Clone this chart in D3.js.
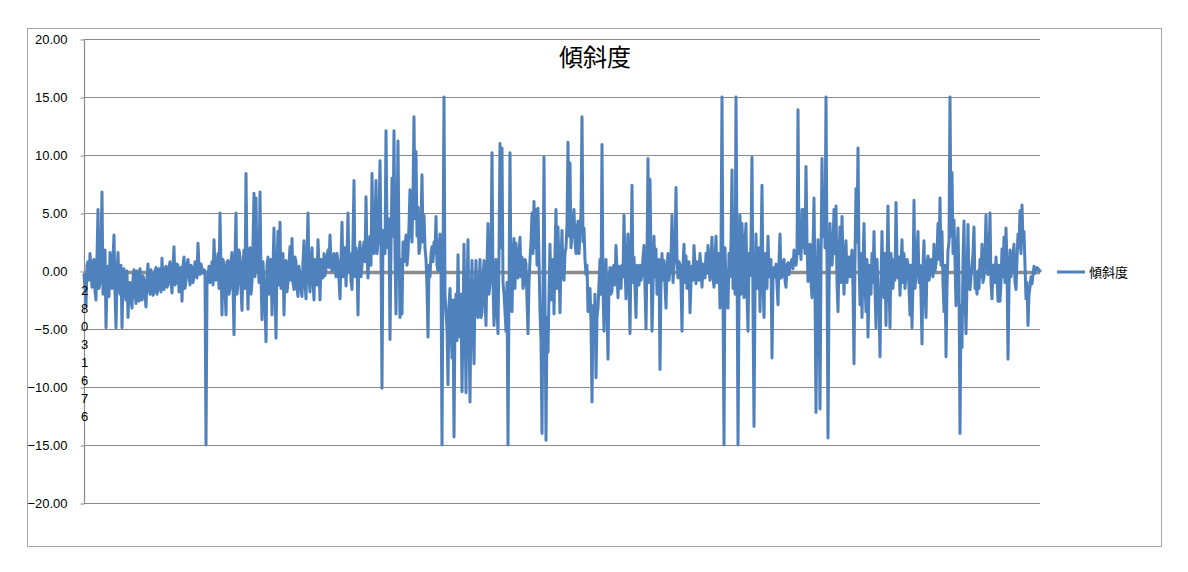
<!DOCTYPE html>
<html><head><meta charset="utf-8">
<script src="https://cdn.jsdelivr.net/npm/d3@7"></script>
<style>body{margin:0;background:#fff}svg{display:block}</style>
</head><body>
<svg id="c" width="1188" height="572"></svg>
<script>
const title = "傾斜度";
const seriesName = "傾斜度";
const categoryLabel = "28031676";
const yTicks = [20, 15, 10, 5, 0, -5, -10, -15, -20];
const values = [
-0.3,-1.5,-3.0,0.5,0.8,-0.8,1.5,0.2,-1.4,0.8,1.0,-1.8,-2.5,1.2,5.3,-1.5,-1.0,2.0,6.8,-2.0,
0.5,1.8,-4.9,-1.0,0.4,-2.2,1.6,-0.5,-1.5,1.2,3.1,-1.8,-4.9,-0.5,1.6,-1.2,-2.0,0.5,-4.9,-0.8,
0.2,-1.8,-2.5,0.0,-4.0,-1.5,-1.0,-2.4,-3.2,-0.6,0.1,-2.0,-2.8,0.0,-1.2,-2.6,0.2,-1.6,-2.5,-0.4,
-0.8,-2.2,-3.1,-0.6,0.6,-1.4,-2.0,0.1,-0.5,-2.1,-1.8,0.0,0.3,-2.0,-1.5,0.2,-0.6,-1.8,1.1,-0.9,
-1.6,0.2,0.4,-1.4,-1.2,0.3,0.8,-0.9,-1.9,0.4,2.1,-1.2,-1.0,0.6,0.5,-1.8,-1.5,0.3,-2.6,0.5,
1.2,-1.5,-0.8,0.6,1.0,-0.4,-1.2,0.5,0.3,-1.0,-0.5,0.8,0.6,-0.6,2.4,0.4,-0.3,0.6,0.2,-0.2,
0.1,0.0,-15.0,-1.2,-0.5,0.4,-1.0,-0.3,0.8,-1.2,2.7,0.2,-0.8,0.6,1.5,-1.5,5.0,0.3,-3.8,1.0,
0.5,-1.5,-3.8,0.8,0.9,-2.0,-1.5,0.8,1.6,-1.2,-5.5,1.0,5.0,-2.0,-1.0,1.8,1.2,-1.5,-3.4,0.6,
1.8,-1.5,8.4,0.5,-3.3,1.5,2.0,-2.0,-1.0,2.5,6.7,-0.5,6.3,0.0,2.5,-1.0,6.8,-0.5,-4.2,0.8,
-1.2,-3.0,-6.1,0.5,1.2,-2.0,-1.5,1.0,-3.8,0.5,3.7,-1.5,-5.8,0.6,3.4,-1.2,4.2,-1.5,-0.5,1.5,
-3.8,0.3,0.9,-1.8,-1.0,0.6,2.1,-0.8,2.8,-1.0,-1.6,1.2,0.8,-1.5,-2.2,0.4,-0.5,-1.6,-2.2,0.8,
2.6,-1.0,-2.4,1.2,5.0,-0.5,-1.8,0.8,2.0,-0.8,-2.5,1.0,0.5,-1.2,2.7,0.5,-2.5,1.0,0.3,-0.6,
1.5,-0.4,0.2,1.2,1.8,0.3,3.1,0.8,0.0,1.0,1.5,0.2,-0.5,1.5,0.8,-0.8,-2.4,1.0,4.2,-0.5,
1.0,2.0,-1.3,1.2,5.0,0.0,1.5,-0.8,-1.6,2.5,7.8,-0.5,2.0,0.5,-3.8,1.5,2.5,-0.5,0.5,1.8,
2.5,0.8,6.4,1.5,-0.6,2.0,3.0,0.5,8.4,2.5,1.5,4.0,7.8,1.5,2.5,4.5,9.5,2.0,-10.1,3.5,
3.0,1.5,12.1,3.5,2.0,4.5,-5.9,2.0,8.0,3.0,12.1,1.5,-3.7,4.0,11.2,2.0,-4.0,1.0,-3.7,2.5,
0.8,2.0,3.1,0.5,1.5,4.0,7.0,3.5,2.5,6.5,13.3,4.5,10.3,3.0,5.5,1.5,2.0,4.5,8.3,2.5,
4.8,2.0,1.0,-1.5,-5.7,0.5,-0.5,1.5,2.1,0.8,2.5,1.5,4.7,0.5,0.0,1.8,3.2,0.5,-15.0,0.5,
15.0,-2.0,-3.5,-5.0,-9.8,-3.0,-1.5,-4.5,-7.5,-2.5,-14.3,-4.0,-2.0,-6.0,1.4,-3.5,-5.7,-2.0,-10.4,-4.5,
2.3,-4.0,-10.5,-2.0,2.7,-5.0,-11.3,-3.0,0.9,-4.5,-8.0,-2.0,0.9,-3.5,-4.0,-1.5,1.0,-4.0,-3.6,-0.5,
0.9,-2.5,-4.7,0.5,4.1,-2.0,-1.0,1.5,10.2,-1.0,-4.7,-2.5,1.0,-3.0,-5.4,1.5,11.0,2.0,10.6,-1.0,
-2.0,-3.5,-5.2,-1.0,-15.0,-2.0,10.2,-1.0,-3.5,1.0,2.8,-1.5,2.4,0.5,-0.6,1.5,2.9,-0.5,1.2,-1.5,
-1.0,1.0,0.6,-2.5,-5.4,-1.0,1.0,2.5,5.0,1.5,6.0,2.0,5.3,0.5,5.4,1.0,-3.5,-6.0,-14.0,-2.0,
9.8,-3.0,-14.6,-4.0,-7.0,-2.0,2.3,-2.5,-1.0,1.0,-3.7,1.5,5.3,-1.5,3.8,0.5,-3.6,1.0,3.5,-0.5,
-0.8,1.5,2.0,4.0,11.1,3.0,9.3,2.0,3.2,4.5,5.3,2.5,1.5,3.5,4.3,1.5,3.4,5.0,13.3,2.5,
3.7,1.0,-0.3,0.5,-3.5,-2.0,-1.5,-4.5,-11.3,-3.0,-4.9,-2.0,-9.2,-4.0,-3.2,-1.0,1.0,-2.0,10.9,-1.5,
-5.2,-1.5,1.0,-3.0,-7.6,-1.0,0.3,-2.0,-1.7,0.3,0.5,-1.2,2.2,0.0,-2.3,0.4,-0.8,-1.5,0.5,-0.5,
4.8,0.5,-2.4,1.0,3.2,-1.0,-5.4,1.5,7.4,-1.0,1.2,-1.5,-4.0,0.5,-0.7,-1.2,0.5,-0.8,-0.3,1.2,
2.2,-1.5,-5.0,1.0,9.7,-1.0,7.9,1.0,-5.2,-1.5,3.0,-0.5,1.9,-2.0,-1.0,1.0,-8.5,-1.0,1.5,-0.8,
0.9,-1.2,-3.2,0.3,1.5,-0.8,0.2,1.2,4.8,-1.0,0.5,2.0,7.2,1.0,-0.6,0.8,0.5,-1.0,-5.2,0.5,
2.3,-1.0,1.3,-1.5,-0.5,0.8,-3.6,-1.0,0.4,-0.8,2.2,0.5,-1.1,0.8,0.3,-0.8,1.5,0.2,-1.4,0.6,
0.5,-0.6,1.5,-0.2,2.2,0.5,-0.8,1.2,2.9,-0.5,-1.4,1.0,3.0,-1.0,0.3,1.5,-3.2,2.0,15.0,-2.0,
-15.0,2.0,-1.0,-3.0,-3.2,1.5,-0.5,2.5,8.7,-1.5,5.2,-2.0,15.0,2.0,-15.0,-2.5,4.8,-2.0,4.1,1.0,
-2.3,2.5,4.1,-2.0,-5.2,1.5,-0.4,2.5,9.8,-3.0,-13.4,-2.0,3.2,-1.5,0.5,2.0,-3.5,1.5,7.4,-1.0,
-4.0,1.5,1.0,-1.5,3.0,-0.5,0.2,1.0,-7.5,-0.8,0.3,-0.5,0.6,-1.2,-2.9,0.8,3.2,-0.6,-0.5,0.6,
1.0,-0.8,-1.4,0.5,0.7,-0.3,0.3,0.8,1.0,0.2,1.8,0.8,0.5,1.5,13.9,1.5,2.9,1.0,5.3,2.0,
5.3,1.5,9.0,2.5,-0.9,1.5,2.3,-1.0,-2.3,2.0,6.3,-1.5,-12.2,-2.0,2.7,-2.5,-11.9,1.0,9.7,3.0,
6.8,2.0,15.0,1.0,-14.4,-2.0,4.1,1.5,0.5,2.0,5.3,1.5,5.6,-1.0,-3.5,1.0,3.8,-1.0,4.7,1.0,
-2.0,1.0,2.6,-1.0,0.6,1.2,-0.5,0.8,1.8,-1.5,-8.0,1.0,7.1,2.5,10.6,1.0,-2.9,1.5,-4.0,0.5,
4.1,-1.0,-3.5,1.0,-5.7,-1.5,0.5,-2.0,1.5,-1.0,3.4,-1.5,-4.9,1.0,-1.7,-2.5,-7.4,-1.0,3.4,-1.0,
-2.3,1.5,-4.7,0.5,5.6,-1.0,-4.9,1.5,0.0,-1.5,1.0,-0.8,5.9,1.0,-0.6,1.2,-2.1,0.5,2.7,-1.0,
1.5,-1.5,-0.3,1.0,0.6,-1.5,-3.8,0.5,-4.9,-1.0,6.1,-1.5,-0.3,1.5,3.4,-1.0,0.5,-2.0,-6.3,0.5,
2.6,-1.5,-4.0,0.5,1.3,-0.8,-0.2,1.0,0.8,-0.5,2.3,0.0,0.6,1.5,4.1,1.0,6.3,0.5,3.4,-1.0,
-3.5,0.5,-7.4,-1.5,1.8,2.5,15.0,3.0,8.5,1.5,4.4,1.0,-3.0,1.5,3.7,-1.0,-14.0,-3.0,-6.6,1.0,
4.3,-2.0,-5.4,-1.0,4.0,-1.5,-1.6,-0.5,0.5,1.5,3.8,-1.5,-1.1,-2.0,0.0,-1.5,1.0,-0.5,2.3,-1.0,
-0.5,1.5,4.8,0.5,-0.3,1.5,5.0,-1.0,-2.4,0.5,0.5,-1.0,1.2,-0.5,-2.6,0.5,-2.6,-1.0,1.9,-0.5,
2.9,-1.0,3.7,0.5,-7.6,-1.5,1.8,-0.5,0.5,1.5,2.3,-1.0,-1.6,1.0,3.2,2.0,5.2,1.5,5.7,2.5,
3.4,0.5,-2.4,-1.0,-4.7,-2.0,-1.4,-0.5,-1.1,-0.3,0.4,-0.2,0.1,0.3,0.2,0.1,0.0
];
const categories = values.map((v, i) => i + 1);

const svg = d3.select("#c");
const plot = {left: 84, right: 1040, top: 39, bottom: 503};
const blue = "#4F81BD", grid = "#8a8a8a";

svg.append("rect").attr("x", 27.5).attr("y", 28.5).attr("width", 1134).attr("height", 518)
  .attr("fill", "#fff").attr("stroke", "#a6a6a6").attr("stroke-width", 1);

const x = d3.scaleLinear().domain([categories[0], categories[categories.length - 1]]).range([plot.left, plot.right]);
const y = d3.scaleLinear().domain([-20, 20]).range([plot.bottom, plot.top]);

// gridlines
svg.append("g").selectAll("line").data(yTicks.filter(d => d !== 0)).join("line")
  .attr("x1", plot.left).attr("x2", plot.right)
  .attr("y1", d => Math.round(y(d)) + 0.5).attr("y2", d => Math.round(y(d)) + 0.5)
  .attr("stroke", grid).attr("stroke-width", 1);

// y axis
const yAxis = d3.axisLeft(y).tickValues(yTicks).tickFormat(d3.format(".2f")).tickSize(4).tickPadding(13);
const ga = svg.append("g").attr("transform", `translate(${plot.left + 0.5},0.5)`).call(yAxis);
ga.select(".domain").attr("stroke", grid).attr("stroke-width", 1.2).attr("d", `M0,${y(20)}V${y(-20)}`);
ga.selectAll(".tick line").attr("stroke", grid);
ga.selectAll(".tick text").attr("font-family", "Liberation Sans, Arial, sans-serif").attr("font-size", 13).attr("fill", "#000");

// category axis at zero (behind the series)
svg.append("line").attr("x1", plot.left).attr("x2", plot.right)
  .attr("y1", y(0) + 1.5).attr("y2", y(0) + 1.5).attr("stroke", "#8c8c8c").attr("stroke-width", 3.5);

// series
const line = d3.line().x((d, i) => x(categories[i])).y(d => y(d));
svg.append("path").datum(values).attr("d", line).attr("fill", "none")
  .attr("stroke", blue).attr("stroke-width", 3).attr("stroke-linejoin", "round").attr("stroke-linecap", "round");

// vertical category label
svg.append("g").selectAll("text").data(categoryLabel.split("")).join("text")
  .attr("x", 81).attr("y", (d, i) => 295 + i * 18)
  .attr("font-family", "Liberation Sans, Arial, sans-serif").attr("font-size", 13).attr("fill", "#000")
  .text(d => d);

// title
svg.append("text").attr("x", 595).attr("y", 66).attr("text-anchor", "middle")
  .attr("font-family", "Noto Sans CJK JP, sans-serif").attr("font-size", 24).attr("fill", "#000").text(title);

// legend
svg.append("line").attr("x1", 1057).attr("x2", 1085).attr("y1", 272).attr("y2", 272)
  .attr("stroke", blue).attr("stroke-width", 3);
svg.append("text").attr("x", 1089).attr("y", 277)
  .attr("font-family", "Noto Sans CJK JP, sans-serif").attr("font-size", 13).attr("fill", "#000").text(seriesName);
</script>
</body></html>
